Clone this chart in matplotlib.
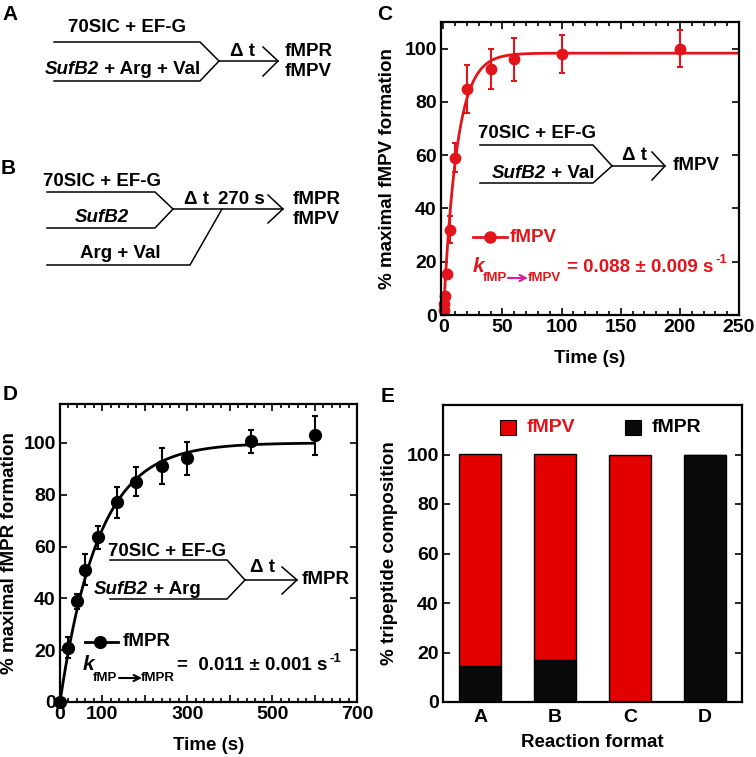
import numpy as np
import matplotlib
matplotlib.use("Agg")
import matplotlib.pyplot as plt

plt.rcParams['font.family'] = ['Liberation Sans', 'DejaVu Sans']
plt.rcParams['font.weight'] = 'bold'
plt.rcParams['axes.labelweight'] = 'bold'

RED = '#e3151c'
BARRED = '#e30000'

# panel C: fMPV formation
t_v = [0.25, 0.5, 1.5, 3, 6, 10, 20, 40, 60, 100, 200]
y_v = [1.8, 4.2, 7.3, 15.3, 32, 59, 85, 92.5, 96, 98, 100]
e_v = [1, 1, 1, 1.5, 5, 5.5, 9, 7.5, 8, 7, 7]
k_v, amp_v = 0.088, 98.3

# panel D: fMPR formation
t_r = [0, 20, 40, 60, 90, 135, 180, 240, 300, 450, 600]
y_r = [0, 21, 38.8, 51, 63.6, 77, 85, 91, 94, 100.6, 103]
e_r = [0, 4, 3, 6, 4.5, 6, 5.5, 7, 6.5, 4.5, 7.5]
k_r, amp_r = 0.011, 100

# panel E: composition
formats = ['A', 'B', 'C', 'D']
fmpr = [14.5, 17, 0, 100]
fmpv = [85.5, 83, 100, 0]

fig = plt.figure(figsize=(7.56, 7.57), dpi=100)

TICK = 14
LAB = 13.5


def style(ax):
    for s in ax.spines.values():
        s.set_linewidth(1.6)
    ax.tick_params(which='both', direction='in', top=True, right=True, labelsize=TICK, width=1.2, pad=3)
    ax.tick_params(which='major', length=5)
    ax.tick_params(which='minor', length=3)


# ---- C ----
axc = fig.add_axes([441/756, 1-315/757, 298/756, 293/757])
tt = np.linspace(0, 250, 500)
axc.plot(tt, amp_v*(1-np.exp(-k_v*tt)), color=RED, lw=2)
axc.errorbar(t_v, y_v, yerr=e_v, fmt='o', color=RED, ms=7.5, capsize=2.5, elinewidth=1.5, capthick=1.5, clip_on=False)
axc.set_xlim(-2, 250)
axc.set_ylim(0, 110)
axc.set_xticks(range(0, 251, 50))
axc.set_xticks(range(0, 251, 10), minor=True)
axc.set_yticks(range(0, 101, 20))
axc.set_xlabel('Time (s)', fontsize=LAB, labelpad=10)
axc.set_ylabel('% maximal fMPV formation', fontsize=LAB, labelpad=6)
style(axc)

# ---- D ----
axd = fig.add_axes([60/756, 1-702/757, 297/756, 298/757])
tt = np.linspace(0, 600, 500)
axd.plot(tt, amp_r*(1-np.exp(-k_r*tt)), color='black', lw=2)
axd.errorbar(t_r, y_r, yerr=e_r, fmt='o', color='black', ms=8.5, capsize=2.5, elinewidth=1.5, capthick=1.5, clip_on=False, zorder=5)
axd.set_xlim(0, 700)
axd.set_ylim(0, 115)
axd.set_xticks(range(0, 701, 100))
axd.set_xticklabels(['0', '100', '', '300', '', '500', '', '700'])
axd.set_xticks(range(0, 701, 20), minor=True)
axd.set_yticks(range(0, 101, 20))
axd.set_xlabel('Time (s)', fontsize=LAB, labelpad=10)
axd.set_ylabel('% maximal fMPR formation', fontsize=LAB, labelpad=4)
style(axd)

# ---- E ----
axe = fig.add_axes([443/756, 1-702/757, 299/756, 297/757])
x = np.arange(1, 5)
axe.bar(x, fmpr, width=0.56, color='#0a0a0a', edgecolor='black', lw=1)
axe.bar(x, fmpv, width=0.56, bottom=fmpr, color=BARRED, edgecolor='black', lw=1)
axe.set_xlim(0.5, 4.5)
axe.set_ylim(0, 120)
axe.set_xticks(x)
axe.set_xticklabels(formats)
axe.set_yticks(range(0, 101, 20))
axe.set_xlabel('Reaction format', fontsize=LAB, labelpad=6)
axe.set_ylabel('% tripeptide composition', fontsize=LAB, labelpad=6)
style(axe)
axe.tick_params(axis='x', length=0, top=False, pad=5)

# ---- overlay in pixel coordinates for schematics and labels ----
ov = fig.add_axes([0, 0, 1, 1], zorder=10)
ov.set_xlim(0, 756)
ov.set_ylim(757, 0)
ov.axis('off')
ov.patch.set_alpha(0)

FS = 13.5


def path(pts, c='black'):
    xs, ys = zip(*pts)
    ov.plot(xs, ys, color=c, lw=1.1, solid_joinstyle='miter')


def txt(x, y, s, ha='center', c='black', size=FS, style='normal'):
    return ov.text(x, y, s, ha=ha, va='center', color=c, fontsize=size, style=style, fontweight='bold')


def sub_arrow(x0, x1, y, c):
    ov.annotate('', xy=(x1, y), xytext=(x0, y),
                arrowprops=dict(arrowstyle='->', color=c, lw=1.5, mutation_scale=11,
                                shrinkA=0, shrinkB=0))


def rate(x, y, s, c):
    t = txt(x, y, s, ha='left', c=c, size=13.5)
    ov.annotate('-1', xy=(1, 0.55), xycoords=t, xytext=(1.5, 0), textcoords='offset points',
                ha='left', va='bottom', color=c, fontsize=9.5, fontweight='bold')


for lab, lx, ly in [('A', 10, 14), ('B', 8, 168), ('C', 385, 15), ('D', 10, 395), ('E', 388, 397)]:
    txt(lx, ly, lab, size=15)

# A
txt(127, 28, '70SIC + EF-G')
path([(54, 42), (200, 42), (219, 61)])
path([(54, 81), (200, 81), (219, 61)])
path([(219, 61), (278, 61)])
path([(263, 47), (278, 61), (263, 76)])
txt(242, 51, 'Δ t')
txt(99, 69, 'SufB2', ha='right', style='italic')
txt(99, 69, ' + Arg + Val', ha='left')
txt(285, 52, 'fMPR', ha='left')
txt(285, 72, 'fMPV', ha='left')

# B
txt(102, 182, '70SIC + EF-G')
path([(47, 192), (155, 192), (173, 209)])
txt(102, 218, 'SufB2', style='italic')
path([(47, 228), (155, 228), (173, 209)])
path([(173, 209), (283, 209)])
path([(268, 195), (283, 209), (268, 223)])
txt(120, 254, 'Arg + Val')
path([(47, 265), (190, 265), (222, 209)])
txt(197, 199, 'Δ t')
txt(241, 199, '270 s')
txt(293, 200, 'fMPR', ha='left')
txt(293, 220, 'fMPV', ha='left')

# C inset
txt(537, 133, '70SIC + EF-G')
path([(480, 145), (593, 145), (612, 166)])
path([(480, 183), (593, 183), (612, 166)])
txt(546, 174, 'SufB2', ha='right', style='italic')
txt(546, 174, ' + Val', ha='left')
path([(612, 166), (665, 166)])
path([(652, 152), (665, 166), (652, 180)])
txt(635, 155, 'Δ t')
txt(673, 165, 'fMPV', ha='left')
ov.plot([473, 507], [237, 237], color=RED, lw=2)
ov.plot([490], [237], 'o', color=RED, ms=8)
txt(510, 237, 'fMPV', ha='left', c=RED)
txt(473, 266, 'k', ha='left', c=RED, size=15, style='italic')
txt(483, 278, 'fMP', ha='left', c=RED, size=9.5)
sub_arrow(508, 528, 278, '#d4209a')
txt(528, 278, 'fMPV', ha='left', c=RED, size=9.5)
rate(567, 267, '= 0.088 ± 0.009 s', RED)

# D inset
txt(167, 551, '70SIC + EF-G')
path([(110, 560), (227, 560), (245, 580)])
path([(110, 599), (227, 599), (245, 580)])
txt(148, 589, 'SufB2', ha='right', style='italic')
txt(148, 589, ' + Arg', ha='left')
path([(245, 580), (297, 580)])
path([(282, 567), (297, 580), (282, 594)])
txt(263, 568, 'Δ t')
txt(302, 580, 'fMPR', ha='left')
ov.plot([85, 118], [642, 642], color='black', lw=2)
ov.plot([100], [642], 'o', color='black', ms=8.5)
txt(123, 642, 'fMPR', ha='left')
txt(83, 665, 'k', ha='left', size=15, style='italic')
txt(93, 678, 'fMP', ha='left', size=9.5)
sub_arrow(119, 142, 678, 'black')
txt(141, 678, 'fMPR', ha='left', size=9.5)
rate(177, 666, '=  0.011 ± 0.001 s', 'black')

# E legend
ov.add_patch(plt.Rectangle((500, 420), 16, 15, facecolor=BARRED, edgecolor='black', lw=0.8))
txt(527, 428, 'fMPV', ha='left', c=RED, size=14)
ov.add_patch(plt.Rectangle((625, 420), 16, 15, facecolor='#0a0a0a', edgecolor='black', lw=0.8))
txt(652, 428, 'fMPR', ha='left', size=14)

fig.savefig('out.png', dpi=100)
